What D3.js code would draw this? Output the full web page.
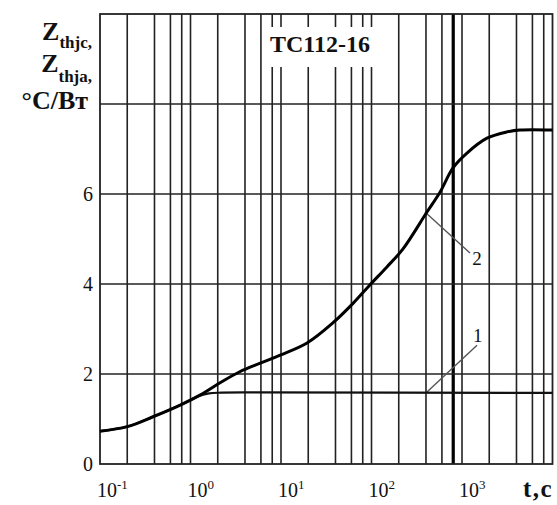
<!DOCTYPE html>
<html>
<head>
<meta charset="utf-8">
<script src="https://cdn.jsdelivr.net/npm/d3@7"></script>
<style>
  html, body { margin: 0; padding: 0; background: #fff; }
  svg { display: block; }
  text { font-family: "Liberation Serif", "Times New Roman", "DejaVu Serif", serif; fill: #111; }
</style>
</head>
<body>
<script>
// ---- data ----
const xTickValues = [0.1, 1, 10, 100, 1000];
const xTickExponents = ["-1", "0", "1", "2", "3"];
const yTickValues = [0, 2, 4, 6];
const yGridValues = [2, 4, 6, 8];
const gridMultipliers = [1, 2, 4, 6, 8];
const gridDecades = [0.1, 1, 10, 100, 1000];
const thickGridValues = [800];

// curve 2: Zthja (t in s, value in °C/W)
const curve2T = [0.1, 0.2, 0.385, 0.77, 1.27, 2.1, 3.5, 5.9, 9.8, 19.4, 37.6, 62.5, 96, 148, 223, 410, 571, 795, 1135, 1890, 3140, 4370, 10000];
const curve2V = [0.73, 0.83, 1.05, 1.31, 1.53, 1.8, 2.05, 2.24, 2.42, 2.69, 3.14, 3.57, 3.98, 4.38, 4.78, 5.6, 6.04, 6.58, 6.91, 7.24, 7.38, 7.42, 7.42];
// curve 1: Zthjc
const curve1T = [0.1, 0.2, 0.385, 0.77, 1.27, 1.6, 2.2, 5, 10000];
const curve1V = [0.73, 0.83, 1.05, 1.31, 1.52, 1.57, 1.585, 1.59, 1.58];

// leader lines [from t, from v, to t, to v] and curve labels
const leaderNames = ["1", "2"];
const leaderFromT = [410, 390];
const leaderFromV = [1.6, 5.6];
const leaderToT = [1466, 1224];
const leaderToV = [2.64, 4.69];
const labelT = [1324, 1300];
const labelV = [2.72, 4.42];

const titleText = "ТС112-16";

// ---- drawing ----
const W = 557, H = 505;
const svg = d3.select("body").append("svg").attr("width", W).attr("height", H);

const x = d3.scaleLog().domain([0.1, 10000]).range([100, 552.5]);
const y = d3.scaleLinear().domain([0, 10]).range([464, 14]);

const gridX = [];
gridDecades.forEach(d => gridMultipliers.forEach(m => { const v = d * m; if (v > 0.1) gridX.push(v); }));

const g = svg.append("g");

// vertical grid
g.selectAll("line.vg").data(gridX).enter().append("line")
  .attr("x1", d => x(d)).attr("x2", d => x(d))
  .attr("y1", y(0)).attr("y2", y(10))
  .attr("stroke", "#222").attr("stroke-width", 1.6);
g.selectAll("line.tg").data(thickGridValues).enter().append("line")
  .attr("x1", d => x(d)).attr("x2", d => x(d))
  .attr("y1", y(0)).attr("y2", y(10))
  .attr("stroke", "#000").attr("stroke-width", 3.2);

// horizontal grid
g.selectAll("line.hg").data(yGridValues).enter().append("line")
  .attr("x1", x(0.1)).attr("x2", x(10000))
  .attr("y1", d => y(d)).attr("y2", d => y(d))
  .attr("stroke", "#222").attr("stroke-width", 1.6);

// frame
g.append("rect")
  .attr("x", x(0.1)).attr("y", y(10))
  .attr("width", x(10000) - x(0.1)).attr("height", y(0) - y(10))
  .attr("fill", "none").attr("stroke", "#222").attr("stroke-width", 1.8);

// title box
svg.append("rect").attr("x", 264).attr("y", 27).attr("width", 112).attr("height", 40).attr("fill", "#fff");
svg.append("text").attr("x", 320).attr("y", 52).attr("text-anchor", "middle")
  .attr("font-size", 24).attr("font-weight", "bold").text(titleText);

// leader lines
leaderNames.forEach((n, i) => {
  svg.append("line")
    .attr("x1", x(leaderFromT[i])).attr("y1", y(leaderFromV[i]))
    .attr("x2", x(leaderToT[i])).attr("y2", y(leaderToV[i]))
    .attr("stroke", "#555").attr("stroke-width", 1.4);
  svg.append("text").attr("x", x(labelT[i])).attr("y", y(labelV[i]))
    .attr("font-size", 19).attr("fill", "#333").text(n);
});

// curves
const line = d3.line().x(d => x(d[0])).y(d => y(d[1])).curve(d3.curveCatmullRom.alpha(0.5));
svg.append("path").datum(curve1T.map((t, i) => [t, curve1V[i]]))
  .attr("d", line).attr("fill", "none").attr("stroke", "#111").attr("stroke-width", 2.2);
svg.append("path").datum(curve2T.map((t, i) => [t, curve2V[i]]))
  .attr("d", line).attr("fill", "none").attr("stroke", "#000").attr("stroke-width", 3);

// y tick labels
svg.selectAll("text.yt").data(yTickValues).enter().append("text")
  .attr("x", 93).attr("y", d => y(d) + 7).attr("text-anchor", "end")
  .attr("font-size", 20).text(d => d);

// x tick labels
xTickValues.forEach((v, i) => {
  const t = svg.append("text").attr("x", x(v) - 3).attr("y", 497).attr("font-size", 20);
  t.append("tspan").text("10");
  t.append("tspan").attr("font-size", 13).attr("dy", -8).text(xTickExponents[i]);
});

// axis titles
const yl = svg.append("g");
const l1 = yl.append("text").attr("x", 92).attr("y", 40).attr("text-anchor", "end").attr("font-weight", "bold");
l1.append("tspan").attr("font-size", 26).text("Z");
l1.append("tspan").attr("font-size", 17).attr("dy", 8).text("thjc,");
const l2 = yl.append("text").attr("x", 92).attr("y", 72).attr("text-anchor", "end").attr("font-weight", "bold");
l2.append("tspan").attr("font-size", 26).text("Z");
l2.append("tspan").attr("font-size", 17).attr("dy", 10).text("thja,");
yl.append("text").attr("x", 88).attr("y", 109).attr("text-anchor", "end")
  .attr("font-weight", "bold").attr("font-size", 26).text("°C/Вт");

svg.append("text").attr("x", 523).attr("y", 497).attr("font-weight", "bold")
  .attr("font-size", 25).attr("letter-spacing", 1.5).text("t,c");
</script>
</body>
</html>
